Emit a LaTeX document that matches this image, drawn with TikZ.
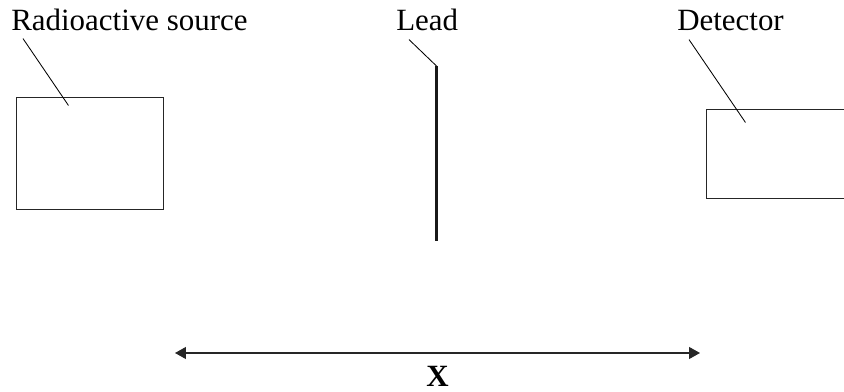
\documentclass[tikz,border=0pt]{standalone}
\usepackage{fontspec}
\setmainfont{Liberation Serif}
\usetikzlibrary{arrows.meta}

\begin{document}
\begin{tikzpicture}[x=0.025cm, y=-0.025cm,
    font=\fontsize{22}{26}\selectfont,
    lbl/.style  ={anchor=base west, inner sep=0pt},
    box/.style  ={draw=black!85, line width=0.7pt, rectangle},
    leader/.style={draw, line width=0.6pt},
    leadbar/.style={draw=black!90, line width=2.2pt},
    span/.style ={draw=black!85, line width=0.9pt, {Triangle[length=7.8pt,width=8.5pt]}-{Triangle[length=7.8pt,width=8.5pt]}},
  ]
  \clip (0,0) rectangle (844,392);

  % source
  \node[box, minimum width=3.65cm, minimum height=2.775cm] (src) at (90,153.5) {};
  \node[lbl] (srclbl) at (11,31) {Radioactive source};
  \draw[leader] ([shift={(12,7)}]srclbl.south west) -- ([shift={(52,8)}]src.north west);

  % lead sheet
  \coordinate (leadtop) at (436.5,66);
  \coordinate (leadbot) at (436.5,241);
  \draw[leadbar] (leadtop) -- (leadbot);
  \node[lbl] (leadlbl) at (396,31) {Lead};
  \draw[leader] ([shift={(13,8)}]leadlbl.south west) -- (leadtop);

  % detector (runs off the right edge)
  \node[box, minimum width=4.325cm, minimum height=2.2cm] (det) at (793.5,154) {};
  \node[lbl] (detlbl) at (677,31) {Detector};
  \draw[leader] ([shift={(12,8)}]detlbl.south west) -- ([shift={(39,13)}]det.north west);

  % distance X
  \coordinate (xl) at (175,353);
  \coordinate (xr) at (700,353);
  \draw[span] (xl) -- (xr);
  \node[anchor=base, inner sep=0pt, font=\fontsize{22}{26}\selectfont\bfseries] (xlbl) at (437.5,387) {X};
\end{tikzpicture}
\end{document}
